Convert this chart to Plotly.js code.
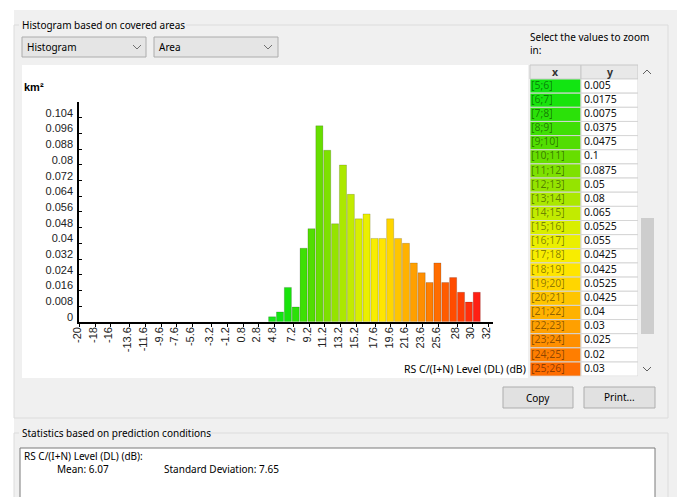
<!DOCTYPE html>
<html>
<head>
<meta charset="utf-8">
<script src="https://cdn.plot.ly/plotly-3.0.1.min.js"></script>
<style>html,body{margin:0;padding:0;background:#fff;}#chart{width:677px;height:497px;}</style>
</head>
<body>
<div id="chart"></div>
<script>
// ---- data ----
const binLower = [4,5,6,7,8,9,10,11,12,13,14,15,16,17,18,19,20,21,22,23,24,25,26,27,28,29,30];
const areaKm2 = [0.0025,0.005,0.0175,0.0075,0.0375,0.0475,0.1,0.0875,0.05,0.08,0.065,0.0525,0.055,0.0425,0.0425,0.0525,0.0425,0.04,0.03,0.025,0.02,0.03,0.02,0.0225,0.015,0.01,0.015];
const xTickVals = [-20,-18,-16,-13.6,-11.6,-9.6,-7.6,-5.6,-3.2,-1.2,0.8,2.8,4.8,7.2,9.2,11.2,13.2,15.2,17.6,19.6,21.6,23.6,25.6,28,30,32];
const xTickText = ["-20","-18","-16","-13.6","-11.6","-9.6","-7.6","-5.6","-3.2","-1.2","0.8","2.8","4.8","7.2","9.2","11.2","13.2","15.2","17.6","19.6","21.6","23.6","25.6","28","30","32"];
const yTickVals = [0,0.008,0.016,0.024,0.032,0.04,0.048,0.056,0.064,0.072,0.08,0.088,0.096,0.104];
const yTickText = ["0","0.008","0.016","0.024","0.032","0.04","0.048","0.056","0.064","0.072","0.08","0.088","0.096","0.104"];
const tableFirst = 1, tableLast = 21; // rows visible in the value table
const statMean = "6.07", statStd = "7.65";

// ---- styling helpers ----
const W = 677, H = 497;
const X = p => p / W, Y = p => 1 - p / H;
const stops = [[4,[30,230,30]],[6,[14,228,14]],[10,[92,220,0]],[13,[160,230,0]],[16,[228,240,0]],[18,[255,236,0]],[20,[255,206,0]],[22,[255,168,0]],[24,[255,134,0]],[26,[255,100,0]],[28,[255,68,0]],[31,[255,24,24]]];
function colorAt(v){
  if (v <= stops[0][0]) return 'rgb(' + stops[0][1].join(',') + ')';
  for (let i = 1; i < stops.length; i++) {
    if (v <= stops[i][0]) {
      const a = stops[i-1], b = stops[i], t = (v - a[0]) / (b[0] - a[0]);
      const c = a[1].map((q, k) => Math.round(q + (b[1][k] - q) * t));
      return 'rgb(' + c.join(',') + ')';
    }
  }
  return 'rgb(' + stops[stops.length-1][1].join(',') + ')';
}
const binCenters = binLower.map(b => b + 0.5);
const barColors = binCenters.map(colorAt);

const tblBins = binLower.slice(tableFirst, tableLast + 1);
const tblVals = areaKm2.slice(tableFirst, tableLast + 1);
const tblX = tblBins.map(b => '[' + b + ';' + (b + 1) + ']');
const tblY = tblVals.map(v => String(v));
const tblXFill = tblBins.map(b => colorAt(b + 0.5));
const tblRow = tblBins.map((b, i) => i + 0.5);
const COLX = 51, COLY = 57; // column widths (px) of the value table

const UI = 'Noto Sans, Segoe UI, sans-serif';
const AX = 'Liberation Sans, Arial, sans-serif';

const bars = {
  type: 'bar', x: binCenters, y: areaKm2, width: 0.9, offset: -0.45,
  marker: {color: barColors, line: {color: 'rgba(0,0,0,0.16)', width: 1}},
  hoverinfo: 'skip', xaxis: 'x', yaxis: 'y'
};
// value table drawn on its own axes (x2: pixels across, y2: row index)
const tblCellX = {type: 'bar', orientation: 'h', y: tblRow, x: tblRow.map(() => COLX), base: 0, width: 1, offset: -0.5,
  marker: {color: tblXFill, line: {color: '#d6d6d6', width: 1}}, hoverinfo: 'skip', xaxis: 'x2', yaxis: 'y2'};
const tblCellY = {type: 'bar', orientation: 'h', y: tblRow, x: tblRow.map(() => COLY), base: COLX, width: 1, offset: -0.5,
  marker: {color: '#ffffff', line: {color: '#d6d6d6', width: 1}}, hoverinfo: 'skip', xaxis: 'x2', yaxis: 'y2'};
const tblTextX = {type: 'scatter', mode: 'text', x: tblRow.map(() => 1), y: tblRow, text: tblX, textposition: 'middle right',
  textfont: {family: UI, size: 10.5, color: 'rgba(0,0,0,0.45)'}, cliponaxis: false, hoverinfo: 'skip', xaxis: 'x2', yaxis: 'y2'};
const tblTextY = {type: 'scatter', mode: 'text', x: tblRow.map(() => COLX + 3), y: tblRow, text: tblY, textposition: 'middle right',
  textfont: {family: UI, size: 10.5, color: '#111'}, cliponaxis: false, hoverinfo: 'skip', xaxis: 'x2', yaxis: 'y2'};

function rect(x0, y0, x1, y1, fill, line, lw, layer){
  return {type: 'rect', xref: 'paper', yref: 'paper', x0: X(x0), x1: X(x1), y0: Y(y1), y1: Y(y0),
    fillcolor: fill, line: {color: line || 'rgba(0,0,0,0)', width: line ? (lw || 1) : 0}, layer: layer || 'below'};
}
function seg(x0, y0, x1, y1, color){
  return {type: 'line', xref: 'paper', yref: 'paper', x0: X(x0), x1: X(x1), y0: Y(y0), y1: Y(y1),
    line: {color: color, width: 1}, layer: 'below'};
}
function chevron(cx, cy, up, color){
  const d = up ? -2 : 2;
  return {type: 'path', xref: 'paper', yref: 'paper',
    path: 'M ' + X(cx-4) + ' ' + Y(cy-d) + ' L ' + X(cx) + ' ' + Y(cy+d) + ' L ' + X(cx+4) + ' ' + Y(cy-d),
    line: {color: color, width: 1}, layer: 'above'};
}
const G = '#dcdcdc';
const shapes = [
  rect(14, 10, 677, 497, '#f0f0f0'),
  seg(14, 25, 19, 25, G), seg(186, 25, 668, 25, G), seg(14, 25, 14, 418, G), seg(668, 25, 668, 418, G), seg(14, 418, 668, 418, G),
  rect(22, 37, 146, 57, '#e5e5e5', '#acacac'), rect(154, 37, 278, 57, '#e5e5e5', '#acacac'),
  chevron(137, 47, false, '#707070'), chevron(268, 47, false, '#707070'),
  rect(22, 65, 528, 378, '#ffffff'),
  rect(530, 65, 530 + COLX, 79, '#e8e8e8', '#c8c8c8'), rect(530 + COLX, 65, 530 + COLX + COLY, 79, '#e8e8e8', '#c8c8c8'),
  rect(638, 65, 655, 377, '#f0f0f0'), rect(641, 218, 654, 334, '#cdcdcd'),
  chevron(647, 72, true, '#606060'), chevron(647, 369, false, '#606060'),
  rect(503, 387, 573, 408, '#e1e1e1', '#adadad'), rect(584, 387, 655, 408, '#e1e1e1', '#adadad'),
  seg(14, 433, 19, 433, G), seg(210, 433, 668, 433, G), seg(14, 433, 14, 497, G), seg(668, 433, 668, 497, G),
  rect(20, 448, 655, 500, '#ffffff', '#7a7a7a')
];
function txt(t, x, y, opts){
  return Object.assign({text: t, xref: 'paper', yref: 'paper', x: X(x), y: Y(y), xanchor: 'left', yanchor: 'middle',
    showarrow: false, font: {family: UI, size: 10, color: '#000'}}, opts || {});
}
const annotations = [
  txt('Histogram based on covered areas', 20, 25),
  txt('Histogram', 25, 47), txt('Area', 157, 47),
  txt('Select the values to zoom', 528, 37), txt('in:', 528, 50),
  txt('<b>x</b>', 530 + COLX / 2, 72, {xanchor: 'center', font: {family: UI, size: 10.5, color: '#333'}}),
  txt('<b>y</b>', 530 + COLX + COLY / 2, 72, {xanchor: 'center', font: {family: UI, size: 10.5, color: '#333'}}),
  txt('<b>km²</b>', 22, 87, {font: {family: AX, size: 11, color: '#000'}}),
  txt('RS C/(I+N) Level (DL) (dB)', 528, 369, {xanchor: 'right', font: {family: UI, size: 10.5, color: '#000'}}),
  txt('Copy', 538, 398, {xanchor: 'center'}), txt('Print...', 619, 397, {xanchor: 'center'}),
  txt('Statistics based on prediction conditions', 20, 433),
  txt('RS C/(I+N) Level (DL) (dB):', 22, 456),
  txt('Mean: ' + statMean, 55, 469), txt('Standard Deviation: ' + statStd, 162, 469)
];

const layout = {
  width: W, height: H, margin: {l: 0, r: 0, t: 0, b: 0},
  paper_bgcolor: '#ffffff', plot_bgcolor: 'rgba(0,0,0,0)', showlegend: false,
  barmode: 'overlay',
  xaxis: {domain: [X(79.3), X(492.5)], range: [-20, 32.5], tickmode: 'array', tickvals: xTickVals, ticktext: xTickText,
    tickangle: -90, ticks: 'outside', ticklen: 3, tickwidth: 1, tickcolor: '#000', showline: true, linecolor: '#000', linewidth: 2,
    showgrid: false, zeroline: false, ticklabelshift: -2, ticklabelstandoff: -4, tickfont: {family: AX, size: 11, color: '#222'}, fixedrange: true},
  yaxis: {domain: [Y(321.7), Y(101.7)], range: [0, 0.1123], tickmode: 'array', tickvals: yTickVals, ticktext: yTickText,
    ticks: 'inside', ticklen: 3, tickwidth: 1, tickcolor: '#000', showline: true, linecolor: '#000', linewidth: 2,
    showgrid: false, zeroline: false, ticklabelshift: -5, ticklabelstandoff: 2, tickfont: {family: AX, size: 11, color: '#222'}, fixedrange: true},
  xaxis2: {domain: [X(530), X(530 + COLX + COLY)], range: [0, COLX + COLY], anchor: 'y2', visible: false, fixedrange: true},
  yaxis2: {domain: [Y(79 + 14.15 * tblRow.length), Y(79)], range: [tblRow.length, 0], anchor: 'x2', visible: false, fixedrange: true},
  shapes: shapes, annotations: annotations
};
Plotly.newPlot('chart', [bars, tblCellX, tblCellY, tblTextX, tblTextY], layout, {staticPlot: true, displayModeBar: false});
</script>
</body>
</html>
